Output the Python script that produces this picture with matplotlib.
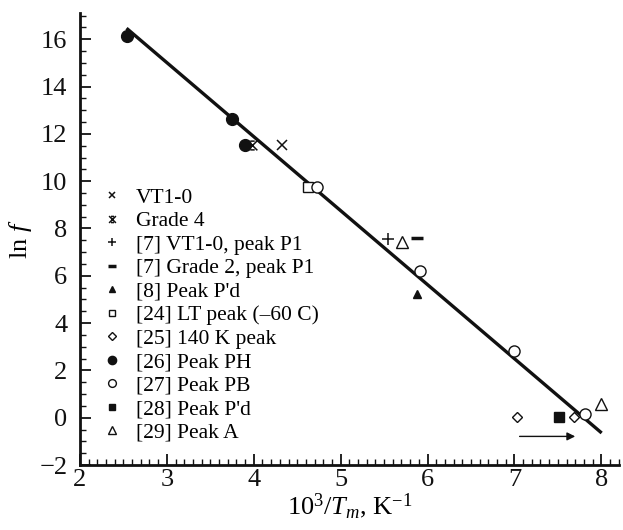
import matplotlib
matplotlib.use("Agg")
import matplotlib.pyplot as plt
from matplotlib.path import Path
from matplotlib.ticker import MultipleLocator
import numpy as np

plt.rcParams['font.family'] = ['Liberation Serif', 'DejaVu Serif']
plt.rcParams['mathtext.fontset'] = 'custom'
plt.rcParams['mathtext.rm'] = 'Liberation Serif'
plt.rcParams['mathtext.it'] = 'Liberation Serif:italic'

# Data (x = 10^3/Tm, y = ln f)
vt10_x = [4.33]; vt10_y = [11.53]
grade4_x = [3.98]; grade4_y = [11.53]
p7vt_x = [5.54]; p7vt_y = [7.56]
p7g2_x = [5.88]; p7g2_y = [7.59]
p8_x = [5.88]; p8_y = [5.22]
lt_x = [4.62]; lt_y = [9.76]
k140_x = [7.03, 7.69]; k140_y = [0.03, 0.03]
ph_x = [2.54, 3.75, 3.90]; ph_y = [16.14, 12.63, 11.53]
pb_x = [4.73, 5.91, 6.99, 7.81]; pb_y = [9.76, 6.21, 2.80, 0.16]
p28_x = [7.51]; p28_y = [0.03]
pa_x = [5.71, 8.00]; pa_y = [7.41, 0.56]
fit_x = [2.55, 7.99]; fit_y = [16.42, -0.60]
arrow_x = [7.06, 7.70]; arrow_y = [-0.79, -0.79]

labels = ["VT1-0", "Grade 4", "[7] VT1-0, peak P1", "[7] Grade 2, peak P1",
          "[8] Peak P'd", "[24] LT peak (\u201360 C)", "[25] 140 K peak",
          "[26] Peak PH", "[27] Peak PB", "[28] Peak P'd", "[29] Peak A"]

# custom "Grade 4" marker: x with short horizontal bars
g4 = Path([(-1, -1), (1, 1), (-1, 1), (1, -1), (-0.45, 0.9), (0.45, 0.9), (-0.45, -0.9), (0.45, -0.9)],
          [Path.MOVETO, Path.LINETO, Path.MOVETO, Path.LINETO,
           Path.MOVETO, Path.LINETO, Path.MOVETO, Path.LINETO])

fig = plt.figure(figsize=(6.23, 5.30), dpi=100)
ax = fig.add_axes([0.1284, 0.1226, 0.8646, 0.8524])

ax.plot(fit_x, fit_y, color='#111111', lw=2.4, zorder=1)

k = dict(color='#111111', ls='none', zorder=3)
ax.plot(vt10_x, vt10_y, marker='x', ms=7, mew=1.1, label=labels[0], **k)
ax.plot(grade4_x, grade4_y, marker=g4, ms=7, mew=1.1, label=labels[1], **k)
ax.plot(p7vt_x, p7vt_y, marker='+', ms=8, mew=1.1, label=labels[2], **k)
ax.plot(p7g2_x, p7g2_y, marker='_', ms=9, mew=2.5, label=labels[3], **k)
ax.plot(p8_x, p8_y, marker='^', ms=6, mfc='#111111', label=labels[4], **k)
ax.plot(lt_x, lt_y, marker='s', ms=7, mfc='white', mew=1.0, label=labels[5], **k)
ax.plot(k140_x, k140_y, marker='D', ms=5.5, mfc='white', mew=1.0, label=labels[6], **k)
ax.plot(ph_x, ph_y, marker='o', ms=8.5, mfc='#111111', label=labels[7], **k)
ax.plot(pb_x, pb_y, marker='o', ms=8, mfc='white', mew=1.0, label=labels[8], **k)
ax.plot(p28_x, p28_y, marker='s', ms=7, mfc='#111111', label=labels[9], **k)
ax.plot(pa_x, pa_y, marker='^', ms=8, mfc='white', mew=1.0, label=labels[10], **k)

ax.annotate('', xy=(arrow_x[1], arrow_y[1]), xytext=(arrow_x[0], arrow_y[0]),
            arrowprops=dict(arrowstyle='-|>', color='#111111', lw=1.0,
                            mutation_scale=12, shrinkA=0, shrinkB=0))

ax.set_xlim(2, 8.2)
ax.set_ylim(-2, 17.1)
ax.xaxis.set_major_locator(MultipleLocator(1))
ax.xaxis.set_minor_locator(MultipleLocator(0.1))
ax.yaxis.set_major_locator(MultipleLocator(2))
ax.yaxis.set_minor_locator(MultipleLocator(0.5))
for s in ['top', 'right']:
    ax.spines[s].set_visible(False)
for s in ['left', 'bottom']:
    ax.spines[s].set_linewidth(2.0)
    ax.spines[s].set_color('#111111')
ax.tick_params(which='major', direction='in', length=8, width=1.3, labelsize=19,
               colors='#111111')
ax.tick_params(axis='y', which='major', pad=9)
ax.tick_params(axis='x', which='major', pad=3)
ax.tick_params(which='minor', direction='in', length=4, width=1.0, colors='#111111')
ax.set_yticks(range(-2, 17, 2))
ax.set_yticklabels(['\u22122'] + [str(v) for v in range(0, 17, 2)])

ax.set_xlabel('10$^{3}$/$\\mathit{T}_{m}$, K$^{\u22121}$', fontsize=19, labelpad=0)
ax.set_ylabel('ln $\\mathit{f}$', fontsize=19, labelpad=4)

leg = ax.legend(loc='upper left', bbox_to_anchor=(0.024, 0.633), frameon=False,
                fontsize=15.5, handlelength=1.0, handletextpad=0.6,
                labelspacing=0.16, markerscale=0.7, borderaxespad=0)

fig.savefig('out.png', dpi=100)
